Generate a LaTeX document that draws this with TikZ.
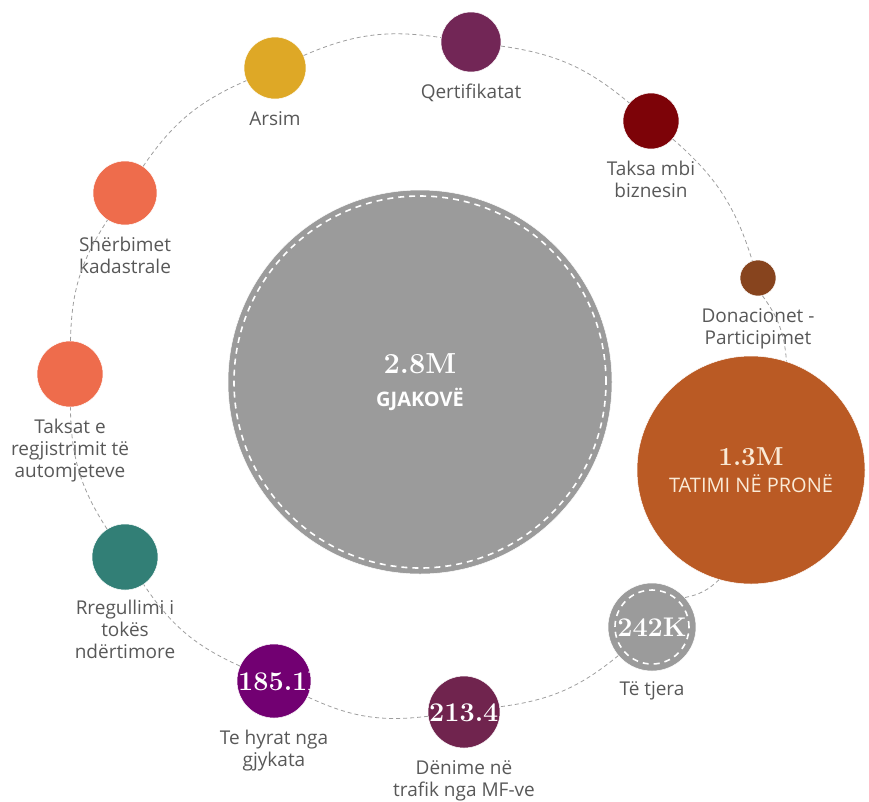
\documentclass[tikz,border=0pt]{standalone}
\usepackage{fontspec}
\setsansfont{Open Sans}
\usetikzlibrary{positioning}

\definecolor{ringgray}{RGB}{158,158,158}
\definecolor{textgray}{RGB}{88,88,88}
\definecolor{bubblegray}{RGB}{155,155,155}
\definecolor{arsimc}{RGB}{222,168,38}
\definecolor{qertc}{RGB}{114,38,86}
\definecolor{biznesc}{RGB}{125,3,8}
\definecolor{donc}{RGB}{135,68,30}
\definecolor{pronec}{RGB}{186,90,36}
\definecolor{gjykatac}{RGB}{114,0,114}
\definecolor{trafikc}{RGB}{112,36,78}
\definecolor{tokac}{RGB}{50,127,118}
\definecolor{coralc}{RGB}{238,108,76}
\definecolor{creamc}{RGB}{250,234,214}

\tikzset{bubble/.style={circle,fill=#1,draw=white,line width=0.5pt,inner sep=0pt}}
\tikzset{caption/.style={font=\sffamily\fontsize{19}{22}\selectfont,text=textgray,align=center,inner sep=0pt}}
\tikzset{bignum/.style={font=\rmfamily\bfseries\fontsize{27}{30}\selectfont}}
\tikzset{stitch/.style={path picture={\draw[white,line width=1.6pt,dash pattern=on 6pt off 5pt]
    (path picture bounding box.center) circle[radius=#1];}}}
\tikzset{clipnum/.style={path picture={\node[bignum,text=white,anchor=west,inner sep=0pt]
    at (path picture bounding box.west) {#1};}}}
\tikzset{ring/.style={ringgray,line width=0.8pt,dash pattern=on 4pt off 3pt}}

\begin{document}
\begin{tikzpicture}[x=1pt,y=1pt]
\useasboundingbox (0,0) rectangle (869,-801);

% centre
\node[bubble=bubblegray,minimum size=384pt,stitch=186pt,text=white,align=center,
      font=\fontsize{20}{33}\selectfont] (gjakove) at (420,-382)
  {{\rmfamily\bfseries\fontsize{29}{30}\selectfont 2.8M}\\{\sffamily\bfseries GJAKOVË}};

% bubbles round the ring
\node[bubble=qertc,minimum size=60pt] (qert) at (471,-42) {};
\node[bubble=biznesc,minimum size=56pt] (biznes) at (651,-121) {};
\node[bubble=donc,minimum size=36pt] (don) at (758,-278) {};
\node[bubble=pronec,minimum size=228pt,text=creamc,align=center,
      font=\fontsize{20}{27}\selectfont] (prone) at (751,-470)
  {{\rmfamily\bfseries\fontsize{26}{28}\selectfont 1.3M}\\{\sffamily TATIMI NË PRONË}};
\node[bubble=bubblegray,minimum size=88pt,stitch=37pt,bignum,text=white] (tjera) at (652,-627) {242K};
\node[bubble=trafikc,minimum size=72pt,clipnum=213.4K] (trafik) at (464,-712) {};
\node[bubble=gjykatac,minimum size=74pt,clipnum=185.1K] (gjykata) at (274,-681) {};
\node[bubble=tokac,minimum size=66pt] (toka) at (125,-557) {};
\node[bubble=coralc,minimum size=66pt] (automjete) at (70,-374) {};
\node[bubble=coralc,minimum size=64pt] (kadastra) at (125,-193) {};
\node[bubble=arsimc,minimum size=62pt] (arsim) at (275,-68) {};

% captions
\node[caption,below=12pt of qert] (qertlbl) {Qertifikatat};
\node[caption,below=12pt of biznes] (bizneslbl) {Taksa mbi\\biznesin};
\node[caption,below=12pt of don] (donlbl) {Donacionet -\\Participimet};
\node[caption,below=10pt of tjera] (tjeralbl) {Të tjera};
\node[caption,below=12pt of trafik] (trafiklbl) {Dënime në\\trafik nga MF-ve};
\node[caption,below=12pt of gjykata] (gjykatalbl) {Te hyrat nga\\gjykata};
\node[caption,below=10pt of toka] (tokalbl) {Rregullimi i\\tokës\\ndërtimore};
\node[caption,below=12pt of automjete] (automjetelbl) {Taksat e\\regjistrimit të\\automjeteve};
\node[caption,below=12pt of kadastra] (kadastralbl) {Shërbimet\\kadastrale};
\node[caption,below=12pt of arsim] (arsimlbl) {Arsim};

% dashed ring
\draw[ring] (qert) to[bend left=16] (biznes);
\draw[ring] (biznes) to[bend left=16] (don);
\draw[ring] (don) to[bend left=16] (prone);
\draw[ring] (prone) to[bend left=16] (tjera);
\draw[ring] (tjera) to[bend left=16] (trafik);
\draw[ring] (trafik) to[bend left=16] (gjykata);
\draw[ring] (gjykata) to[bend left=16] (toka);
\draw[ring] (toka) to[bend left=16] (automjete);
\draw[ring] (automjete) to[bend left=16] (kadastra);
\draw[ring] (kadastra) to[bend left=16] (arsim);
\draw[ring] (arsim) to[bend left=16] (qert);

\end{tikzpicture}
\end{document}
